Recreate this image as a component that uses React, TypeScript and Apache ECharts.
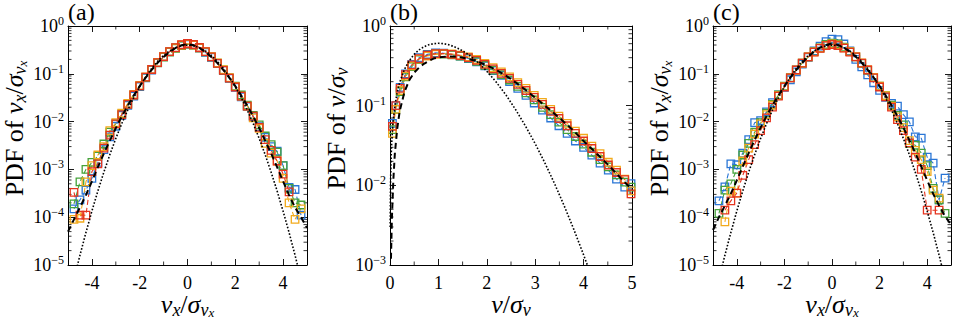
import React, { useEffect, useRef } from "react";
import * as echarts from "echarts";

const FONT = "Liberation Serif";
const BLUE = "#2a76d6";
const GREEN = "#45a23a";
const YELLOW = "#f2aa1c";
const RED = "#e5341f";

// ---------- panel (a): PDF of v_x ----------
const xA = [-4.75, -4.5, -4.25, -4, -3.75, -3.5, -3.25, -3, -2.75, -2.5, -2.25, -2, -1.75, -1.5, -1.25, -1, -0.75, -0.5, -0.25, 0, 0.25, 0.5, 0.75, 1, 1.25, 1.5, 1.75, 2, 2.25, 2.5, 2.75, 3, 3.25, 3.5, 3.75, 4, 4.25, 4.5, 4.75];
const blueA = [1.5e-4, 2.3e-4, 3.7e-4, 6.5e-4, 1.4e-3, 2.6e-3, 4.8e-3, 8.0e-3, 0.0135, 0.022, 0.034, 0.054, 0.082, 0.12, 0.172, 0.228, 0.29, 0.35, 0.395, 0.415, 0.40, 0.345, 0.28, 0.22, 0.165, 0.118, 0.08, 0.052, 0.033, 0.0205, 0.0125, 0.0078, 0.0047, 0.003, 0.0024, 0.0012, 4.2e-4, 3.8e-4, 1.1e-4];
const greenA = [1.9e-4, 5.5e-4, 1.0e-3, 1.4e-3, 1.9e-3, 3.4e-3, 6.0e-3, 9.0e-3, 0.0145, 0.023, 0.036, 0.056, 0.084, 0.122, 0.17, 0.224, 0.284, 0.342, 0.39, 0.418, 0.398, 0.35, 0.288, 0.226, 0.168, 0.12, 0.082, 0.055, 0.036, 0.022, 0.0135, 0.0085, 0.005, 0.0033, 0.0023, 0.0012, 4.0e-4, 2.0e-4, 1.8e-4];
const yellowA = [9e-5, 9.5e-5, 5.5e-4, 1.2e-3, 2.0e-3, 3.0e-3, 6.5e-3, 9.5e-3, 0.015, 0.024, 0.037, 0.057, 0.086, 0.124, 0.173, 0.23, 0.29, 0.35, 0.4, 0.425, 0.4, 0.35, 0.29, 0.228, 0.17, 0.122, 0.083, 0.054, 0.034, 0.021, 0.012, 0.0072, 0.0035, 0.0022, 0.0015, 6.5e-4, 2.0e-4, 9e-5, 1.5e-4];
const redA = [3.3e-4, 1.1e-4, 1.1e-4, 9e-4, 1.3e-3, 2.8e-3, 5.2e-3, 9.0e-3, 0.014, 0.023, 0.036, 0.056, 0.085, 0.123, 0.172, 0.228, 0.29, 0.352, 0.405, 0.43, 0.41, 0.355, 0.29, 0.225, 0.165, 0.118, 0.081, 0.053, 0.034, 0.021, 0.013, 0.0076, 0.0042, 0.0025, 0.0015, 8e-4, 3.4e-4, null, null];

const xFit = [-5, -4.75, -4.5, -4.25, -4, -3.75, -3.5, -3.25, -3, -2.75, -2.5, -2.25, -2, -1.75, -1.5, -1.25, -1, -0.75, -0.5, -0.25, 0, 0.25, 0.5, 0.75, 1, 1.25, 1.5, 1.75, 2, 2.25, 2.5, 2.75, 3, 3.25, 3.5, 3.75, 4, 4.25, 4.5, 4.75, 5];
const fitA = [5e-5, 9e-5, 1.6e-4, 2.9e-4, 5.6e-4, 1.12e-3, 2.15e-3, 4.0e-3, 7.3e-3, 0.0128, 0.0216, 0.0351, 0.0552, 0.0833, 0.121, 0.169, 0.225, 0.286, 0.346, 0.395, 0.42, 0.395, 0.346, 0.286, 0.225, 0.169, 0.121, 0.0833, 0.0552, 0.0351, 0.0216, 0.0128, 7.3e-3, 4.0e-3, 2.15e-3, 1.12e-3, 5.6e-4, 2.9e-4, 1.6e-4, 1e-4, 6e-5];
const gaussV = [5.0e-6, 1.6e-5, 4.77e-5, 1.34e-4, 3.53e-4, 8.73e-4, 2.03e-3, 4.43e-3, 9.09e-3, 0.0175, 0.0317, 0.054, 0.0863, 0.1295, 0.1826, 0.242, 0.3011, 0.3521, 0.3867, 0.3989, 0.3867, 0.3521, 0.3011, 0.242, 0.1826, 0.1295, 0.0863, 0.054, 0.0317, 0.0175, 9.09e-3, 4.43e-3, 2.03e-3, 8.73e-4, 3.53e-4, 1.34e-4, 4.77e-5, 1.6e-5, 5.0e-6];

// ---------- panel (b): PDF of speed ----------
const xB = [0.05, 0.12, 0.21, 0.32, 0.45, 0.6, 0.77, 0.94, 1.11, 1.28, 1.45, 1.62, 1.79, 1.96, 2.13, 2.3, 2.47, 2.64, 2.81, 2.98, 3.15, 3.32, 3.49, 3.66, 3.83, 4.0, 4.17, 4.34, 4.51, 4.68, 4.85, 4.98];
const blueB = [0.06, 0.1, 0.17, 0.25, 0.33, 0.4, 0.44, 0.46, 0.455, 0.44, 0.42, 0.39, 0.355, 0.315, 0.275, 0.24, 0.2, 0.165, 0.135, 0.108, 0.088, 0.07, 0.056, 0.045, 0.036, 0.03, 0.024, 0.019, 0.0155, 0.012, 0.0095, 0.0105];
const greenB = [0.05, 0.09, 0.15, 0.23, 0.31, 0.38, 0.43, 0.45, 0.445, 0.435, 0.42, 0.395, 0.36, 0.32, 0.28, 0.245, 0.21, 0.175, 0.145, 0.118, 0.095, 0.077, 0.062, 0.05, 0.041, 0.033, 0.026, 0.021, 0.017, 0.0135, 0.011, 0.0095];
const yellowB = [0.045, 0.09, 0.155, 0.235, 0.315, 0.385, 0.42, 0.44, 0.45, 0.445, 0.43, 0.41, 0.38, 0.34, 0.3, 0.265, 0.23, 0.195, 0.165, 0.135, 0.11, 0.09, 0.074, 0.06, 0.048, 0.039, 0.031, 0.025, 0.0195, 0.0155, 0.012, 0.0085];
const redB = [0.055, 0.1, 0.165, 0.245, 0.325, 0.39, 0.43, 0.45, 0.45, 0.44, 0.425, 0.4, 0.37, 0.33, 0.29, 0.255, 0.22, 0.185, 0.155, 0.127, 0.104, 0.085, 0.069, 0.056, 0.045, 0.036, 0.029, 0.023, 0.018, 0.0145, 0.0118, 0.0078];
const xFitB = [0.02, 0.04, 0.07, 0.1, 0.15, 0.2, 0.3, 0.4, 0.5, 0.6, 0.7, 0.8, 0.9, 1.0, 1.2, 1.4, 1.6, 1.8, 2.0, 2.2, 2.4, 2.6, 2.8, 3.0, 3.2, 3.4, 3.6, 3.8, 4.0, 4.2, 4.4, 4.6, 4.8, 5.0];
const fitB = [0.0012, 0.004, 0.012, 0.025, 0.052, 0.085, 0.15, 0.21, 0.26, 0.3, 0.335, 0.365, 0.39, 0.405, 0.415, 0.41, 0.39, 0.36, 0.32, 0.28, 0.237, 0.195, 0.158, 0.126, 0.1, 0.079, 0.062, 0.048, 0.036, 0.0275, 0.021, 0.0158, 0.0117, 0.0089];
const xRay = [0.003, 0.01, 0.03, 0.06, 0.1, 0.15, 0.2, 0.3, 0.4, 0.5, 0.6, 0.7, 0.8, 0.9, 1.0, 1.1, 1.2, 1.3, 1.4, 1.5, 1.6, 1.7, 1.8, 1.9, 2.0, 2.2, 2.4, 2.6, 2.8, 3.0, 3.2, 3.4, 3.6, 3.8, 4.0, 4.1];
const rayV = [0.003, 0.01, 0.03, 0.0599, 0.0995, 0.1483, 0.196, 0.287, 0.369, 0.441, 0.502, 0.548, 0.581, 0.6, 0.607, 0.601, 0.584, 0.558, 0.525, 0.487, 0.446, 0.401, 0.356, 0.3125, 0.271, 0.196, 0.135, 0.0884, 0.0554, 0.0333, 0.0191, 0.0105, 0.00551, 0.00278, 0.00134, 0.000917];

// ---------- panel (c): PDF of v_x (second data set) ----------
const blueC = [2.2e-4, 4.3e-4, 1.3e-3, 1.25e-3, 2.2e-3, 4.2e-3, 9.5e-3, 0.0105, 0.016, 0.025, 0.036, 0.052, 0.075, 0.11, 0.16, 0.22, 0.3, 0.38, 0.47, 0.53, 0.52, 0.42, 0.3, 0.2, 0.14, 0.095, 0.065, 0.045, 0.032, 0.024, 0.021, 0.014, 0.0099, 0.0048, 0.0045, 0.0018, 0.00135, 2.3e-4, 6.6e-4];
const greenC = [1.2e-4, 3.7e-4, 5e-4, 1.0e-3, 2e-3, 3.5e-3, 6e-3, 9.5e-3, 0.015, 0.023, 0.036, 0.055, 0.083, 0.12, 0.168, 0.225, 0.29, 0.35, 0.41, 0.44, 0.42, 0.36, 0.29, 0.225, 0.165, 0.118, 0.083, 0.055, 0.035, 0.022, 0.0135, 0.0085, 0.0035, 0.0032, 0.0022, 1.2e-3, 4e-4, 2.3e-4, 1.2e-4];
const yellowC = [null, 8e-5, 3.5e-4, 3.2e-4, 1.5e-3, 2.8e-3, 5.5e-3, 0.009, 0.014, 0.022, 0.035, 0.054, 0.082, 0.119, 0.168, 0.225, 0.287, 0.345, 0.395, 0.42, 0.4, 0.35, 0.29, 0.228, 0.17, 0.122, 0.084, 0.055, 0.035, 0.021, 0.0125, 0.0075, 0.004, 0.0025, 0.0016, 9e-4, 3.7e-4, 2.5e-4, null];
const redC = [null, 1.4e-4, 2.2e-4, 3.2e-4, 7.5e-4, 1.6e-3, 3.3e-3, 6.5e-3, 0.012, 0.02, 0.034, 0.053, 0.082, 0.12, 0.168, 0.225, 0.285, 0.34, 0.39, 0.41, 0.39, 0.345, 0.285, 0.225, 0.168, 0.12, 0.082, 0.053, 0.033, 0.02, 0.011, 0.0065, 0.0036, 0.0018, 1.0e-3, 1.4e-4, null, 1.4e-4, null];
const fitC = [5.4e-5, 1e-4, 1.75e-4, 3.1e-4, 5.9e-4, 1.15e-3, 2.2e-3, 4.1e-3, 7.5e-3, 0.013, 0.022, 0.0355, 0.0555, 0.0835, 0.121, 0.17, 0.228, 0.29, 0.352, 0.402, 0.43, 0.402, 0.352, 0.29, 0.228, 0.17, 0.121, 0.0835, 0.0555, 0.0355, 0.022, 0.013, 7.5e-3, 4.1e-3, 2.2e-3, 1.15e-3, 5.9e-4, 3.1e-4, 1.75e-4, 1.05e-4, 7e-5];

// ---------- axes ----------
const ticksVx = [-4, -2, 0, 2, 4];
const minorVx = [-3, -1, 1, 3];
const ticksV = [0, 1, 2, 3, 4, 5];
const minorV = [0.5, 1.5, 2.5, 3.5, 4.5];

const GRIDS = [
  { left: 68, top: 26, width: 239, height: 239 },
  { left: 390, top: 26, width: 242, height: 239 },
  { left: 713, top: 26, width: 238, height: 239 },
];

const pairs = (xs: number[], ys: (number | null)[]) => xs.map((x, i) => [x, ys[i] == null ? null : ys[i]]);

function decadeMinors(lo: number, hi: number) {
  const out: number[] = [];
  for (let e = lo; e < hi; e++) for (let m = 2; m <= 9; m++) out.push(m * Math.pow(10, e));
  return out;
}

const mathRich = {
  r: { fontFamily: FONT, fontSize: 26, lineHeight: 28, color: "#000" },
  i: { fontFamily: FONT, fontSize: 26, lineHeight: 28, fontStyle: "italic", color: "#000" },
  s: { fontFamily: FONT, fontSize: 18, lineHeight: 16, fontStyle: "italic", color: "#000", padding: [11, 0, 0, 0] },
  ss: { fontFamily: FONT, fontSize: 13, lineHeight: 12, fontStyle: "italic", color: "#000", padding: [16, 0, 0, 0] },
};

const tickRich = {
  b: { fontFamily: FONT, fontSize: 18, lineHeight: 20, color: "#000" },
  e: { fontFamily: FONT, fontSize: 12, lineHeight: 10, color: "#000", padding: [0, 0, 10, 0] },
};

export default function App() {
  const ref = useRef<HTMLDivElement>(null);
  useEffect(() => {
    if (!ref.current) return;
    const chart = echarts.init(ref.current, null, { renderer: "svg" });

    const xAxes: any[] = [];
    const yAxes: any[] = [];
    const series: any[] = [];

    const panels = [
      { min: -5, max: 5, ticks: ticksVx, minors: minorVx, ymin: 1e-5, lo: -5,
        xname: "{i|v}{s|x}{r|/}{i|σ}{s|v}{ss|x}", yname: "{r|PDF of }{i|v}{s|x}{r|/}{i|σ}{s|v}{ss|x}" },
      { min: 0, max: 5, ticks: ticksV, minors: minorV, ymin: 1e-3, lo: -3,
        xname: "{i|v}{r|/}{i|σ}{s|v}", yname: "{r|PDF of }{i|v}{r|/}{i|σ}{s|v}" },
      { min: -5, max: 5, ticks: ticksVx, minors: minorVx, ymin: 1e-5, lo: -5,
        xname: "{i|v}{s|x}{r|/}{i|σ}{s|v}{ss|x}", yname: "{r|PDF of }{i|v}{s|x}{r|/}{i|σ}{s|v}{ss|x}" },
    ];

    const axisLine = { show: true, onZero: false, lineStyle: { color: "#000", width: 1 } };
    const tickStyle = { color: "#000", width: 0.9 };

    panels.forEach((p, gi) => {
      xAxes.push({
        type: "value", gridIndex: gi, min: p.min, max: p.max, position: "bottom",
        axisLine, splitLine: { show: false },
        axisTick: { show: true, inside: true, length: 6, customValues: p.ticks, lineStyle: tickStyle },
        axisLabel: { customValues: p.ticks, margin: 9, color: "#000", fontFamily: FONT, fontSize: 18 },
        name: p.xname, nameLocation: "middle", nameGap: 25, nameMoveOverlap: false,
        nameTextStyle: { rich: mathRich, lineHeight: 28 },
      });
      xAxes.push({
        type: "value", gridIndex: gi, min: p.min, max: p.max, position: "top",
        axisLine, splitLine: { show: false },
        axisTick: { show: true, inside: true, length: 6, customValues: p.ticks, lineStyle: tickStyle },
        axisLabel: { show: false },
      });
      yAxes.push({
        type: "log", logBase: 10, gridIndex: gi, min: p.ymin, max: 1, position: "left",
        axisLine, splitLine: { show: false },
        axisTick: { show: true, inside: true, length: 6, lineStyle: tickStyle },
        axisLabel: {
          margin: 4,
          formatter: (v: number) => {
            const e = Math.round(Math.log10(v));
            return `{b|10}{e|${e < 0 ? "\u2212" + -e : e}}`;
          },
          rich: tickRich,
        },
        name: p.yname, nameLocation: "middle", nameRotate: 90, nameGap: 40, nameMoveOverlap: false,
        nameTextStyle: { rich: mathRich, lineHeight: 28, padding: [0, 0, 0, 34] },
      });
      yAxes.push({
        type: "log", logBase: 10, gridIndex: gi, min: p.ymin, max: 1, position: "right",
        axisLine, splitLine: { show: false },
        axisTick: { show: true, inside: true, length: 6, lineStyle: tickStyle },
        axisLabel: { show: false },
      });

      // minor ticks drawn through the axis scales
      series.push({
        type: "custom", xAxisIndex: 2 * gi, yAxisIndex: 2 * gi, silent: true, z: 1,
        data: decadeMinors(p.lo, 0).map((v) => [p.min, v]),
        renderItem: (params: any, api: any) => {
          const cs = params.coordSys;
          const y = api.coord([api.value(0), api.value(1)])[1];
          return {
            type: "group",
            children: [
              { type: "line", shape: { x1: cs.x, y1: y, x2: cs.x + 3.5, y2: y }, style: { stroke: "#000", lineWidth: 0.8 } },
              { type: "line", shape: { x1: cs.x + cs.width - 3.5, y1: y, x2: cs.x + cs.width, y2: y }, style: { stroke: "#000", lineWidth: 0.8 } },
            ],
          };
        },
      });
      series.push({
        type: "custom", xAxisIndex: 2 * gi, yAxisIndex: 2 * gi, silent: true, z: 1,
        data: p.minors.map((v) => [v, p.ymin]),
        renderItem: (params: any, api: any) => {
          const cs = params.coordSys;
          const x = api.coord([api.value(0), api.value(1)])[0];
          return {
            type: "group",
            children: [
              { type: "line", shape: { x1: x, y1: cs.y + cs.height - 3.5, x2: x, y2: cs.y + cs.height }, style: { stroke: "#000", lineWidth: 0.8 } },
              { type: "line", shape: { x1: x, y1: cs.y, x2: x, y2: cs.y + 3.5 }, style: { stroke: "#000", lineWidth: 0.8 } },
            ],
          };
        },
      });
    });

    const marker = (gi: number, xs: number[], ys: (number | null)[], color: string) => ({
      type: "line", xAxisIndex: 2 * gi, yAxisIndex: 2 * gi, data: pairs(xs, ys),
      symbol: "rect", symbolSize: 7.5, showSymbol: true, connectNulls: true, silent: true, z: 2,
      lineStyle: { color, width: 1.1, type: [5, 3] },
      itemStyle: { color: "rgba(255,255,255,0)", borderColor: color, borderWidth: 1.3 },
      emphasis: { disabled: true },
    });
    const fit = (gi: number, xs: number[], ys: number[]) => ({
      type: "line", xAxisIndex: 2 * gi, yAxisIndex: 2 * gi, data: pairs(xs, ys), symbol: "none", silent: true, z: 3,
      lineStyle: { color: "#000", width: 2, type: [6, 4] },
    });
    const gauss = (gi: number, xs: number[], ys: number[]) => ({
      type: "line", xAxisIndex: 2 * gi, yAxisIndex: 2 * gi, data: pairs(xs, ys), symbol: "none", silent: true, z: 4,
      lineStyle: { color: "#000", width: 1.6, type: [1.6, 1.8] },
    });

    series.push(
      marker(0, xA, blueA, BLUE), marker(0, xA, greenA, GREEN), marker(0, xA, yellowA, YELLOW), marker(0, xA, redA, RED),
      fit(0, xFit, fitA), gauss(0, xA, gaussV),
      marker(1, xB, blueB, BLUE), marker(1, xB, greenB, GREEN), marker(1, xB, yellowB, YELLOW), marker(1, xB, redB, RED),
      fit(1, xFitB, fitB), gauss(1, xRay, rayV),
      marker(2, xA, blueC, BLUE), marker(2, xA, greenC, GREEN), marker(2, xA, yellowC, YELLOW), marker(2, xA, redC, RED),
      fit(2, xFit, fitC), gauss(2, xA, gaussV),
    );

    const titleStyle = { fontFamily: FONT, fontSize: 24, fontWeight: "normal", color: "#000" };
    chart.setOption({
      animation: false,
      backgroundColor: "#fff",
      textStyle: { fontFamily: FONT },
      title: [
        { text: "(a)", left: 68, top: 0, padding: 0, textStyle: titleStyle },
        { text: "(b)", left: 390, top: 0, padding: 0, textStyle: titleStyle },
        { text: "(c)", left: 713, top: 0, padding: 0, textStyle: titleStyle },
      ],
      grid: GRIDS.map((g) => ({ ...g, containLabel: false, outerBoundsMode: "none" })),
      xAxis: xAxes,
      yAxis: yAxes,
      series,
    });
    return () => chart.dispose();
  }, []);
  return <div ref={ref} style={{ position: "absolute", left: 0, top: 0, width: 954, height: 319 }} />;
}
